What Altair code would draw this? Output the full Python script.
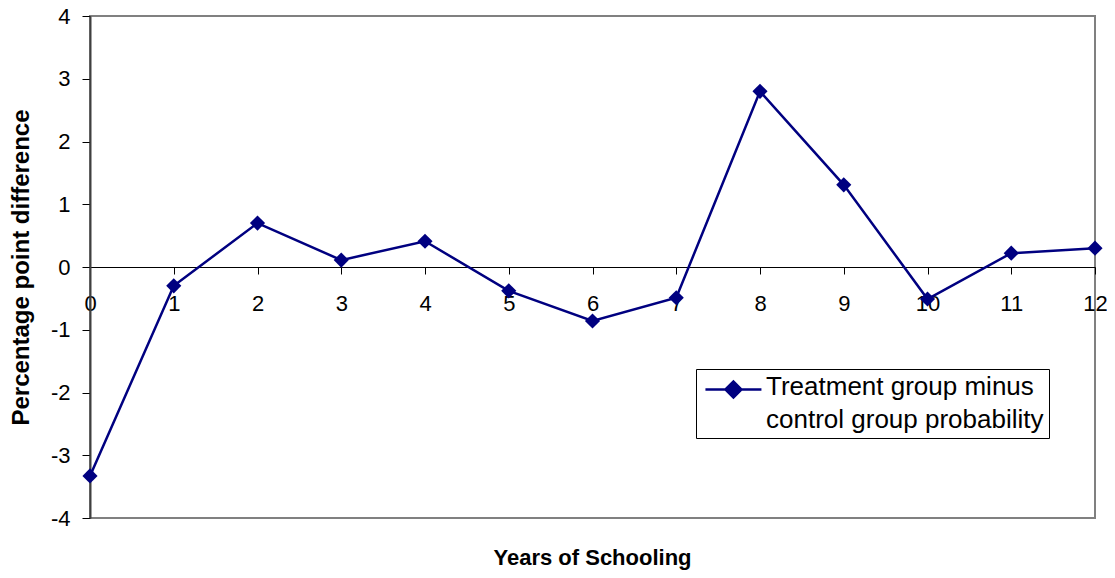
import altair as alt
import pandas as pd

# ---- data ----
years = list(range(13))
diff = [-3.33, -0.30, 0.70, 0.11, 0.41, -0.38, -0.86, -0.49, 2.80, 1.31, -0.51, 0.22, 0.30]
series_name = "Treatment group minus control group probability"
legend_lines = ["Treatment group minus", "control group probability"]
x_title = "Years of Schooling"
y_title = "Percentage point difference"
x_ticks = list(range(0, 13))
y_ticks = list(range(-4, 5))
y_domain = [-4, 4]
x_domain = [0, 12]

df = pd.DataFrame({"year": years, "diff": diff, "series": [series_name] * len(years)})
title_df = pd.DataFrame({"t": [x_title]})

FONT = "Liberation Sans"
NAVY = "#000080"
W, H = 1005, 502
# distance of the y=0 line above the bottom edge of the plot
zero_offset = H * (0 - y_domain[0]) / (y_domain[1] - y_domain[0])

x_enc = alt.X(
    "year:Q",
    scale=alt.Scale(domain=x_domain, nice=False, zero=False),
    axis=alt.Axis(
        values=x_ticks, offset=-zero_offset, title=None, grid=False,
        domainColor="black", domainWidth=1, tickColor="black", tickSize=7,
        labelFontSize=22, labelFont=FONT, labelColor="black", labelPadding=19,
        labelExpr="'' + datum.value", labelFlush=False, labelOverlap=False,
    ),
)
y_enc = alt.Y(
    "diff:Q",
    scale=alt.Scale(domain=y_domain, nice=False),
    axis=alt.Axis(
        values=y_ticks, title=y_title, grid=False,
        domainColor="#404040", domainWidth=2, tickColor="black", tickSize=8,
        labelFontSize=22, labelFont=FONT, labelColor="black", labelPadding=12,
        labelExpr="'' + datum.value", labelFlush=False, labelOverlap=False,
        titleFont=FONT, titleFontSize=24, titleFontWeight="bold", titleColor="black",
        titlePadding=17,
    ),
)

base = alt.Chart(df)
line = base.mark_line(color=NAVY, strokeWidth=2.5).encode(x=x_enc, y=y_enc)
points = base.mark_point(shape="diamond", filled=True, size=230, opacity=1).encode(
    x=x_enc,
    y=y_enc,
    color=alt.Color(
        "series:N",
        scale=alt.Scale(range=[NAVY]),
        legend=alt.Legend(
            # the two-line legend text is shown as the legend's title, placed to the
            # right of the symbol, so that its line spacing can be set
            title=legend_lines, titleOrient="right", titleAnchor="start",
            titleBaseline="top", titleAlign="left", titleLimit=600,
            titleFont=FONT, titleFontSize=26, titleFontWeight="normal",
            titleColor="black", titleLineHeight=33, titlePadding=0,
            orient="none", legendX=606, legendY=353,
            strokeColor="black", fillColor="white", padding=5,
            symbolType="M-0.79,0L3.21,0M0.64,0L1.21,-0.57L1.78,0L1.21,0.57Z",
            symbolSize=784, symbolStrokeWidth=2.5, symbolStrokeColor=NAVY,
            symbolFillColor=NAVY, symbolOpacity=1,
            labelExpr="''", labelOffset=0,
        ),
    ),
)
xtitle = alt.Chart(title_df).mark_text(
    font=FONT, fontSize=22, fontWeight="bold", color="black", baseline="middle", align="center"
).encode(text="t:N", x=alt.value(W / 2), y=alt.value(542))

chart = (
    alt.layer(line, points, xtitle)
    .properties(
        width=W, height=H,
        autosize=alt.AutoSizeParams(type="none"),
        padding={"left": 82, "top": 8, "right": 12, "bottom": 52},
        background="white",
    )
    .configure_view(stroke="#808080", strokeWidth=2)
)

chart.save("out.html", embed_options={"renderer": "svg", "actions": False})
